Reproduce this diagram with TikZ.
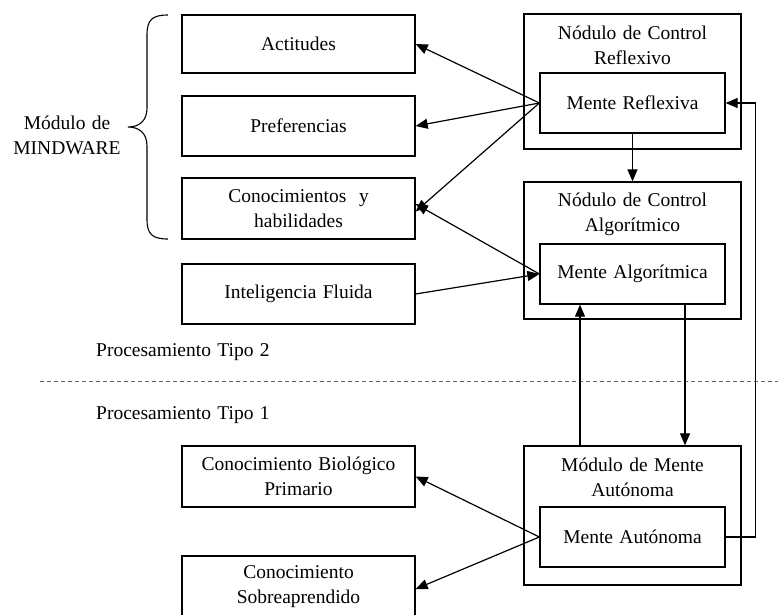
\documentclass[tikz,border=0pt]{standalone}
\usepackage{fontspec}
\setmainfont{Liberation Serif}[WordSpace=1.3]
\usetikzlibrary{arrows.meta}
\begin{document}
\begin{tikzpicture}[x=1pt,y=-1pt,
  every node/.style={font=\fontsize{19.5}{25}\selectfont, inner sep=0pt},
  box/.style={draw, line width=1.3pt, minimum width=233pt, minimum height=#1, align=center},
  box/.default=60pt,
  outer/.style={draw, line width=1.3pt, minimum width=217pt, minimum height=#1},
  inner/.style={draw, line width=1.3pt, minimum width=185pt, minimum height=60pt, align=center},
  title/.style={align=center},
  arr/.style={line width=1.2pt, -{Triangle[length=12pt,width=10pt]}},
  ln/.style={line width=1.2pt}]
\clip (0,0) rectangle (778,614);
\fill[white] (0,0) rectangle (778,614);

% left boxes
\node[box=58pt] (act) at (298.5,44) {Actitudes};
\node[box] (pref) at (298.5,126) {Preferencias};
\node[box=61pt] (con) at (298.5,208.5) {Conocimientos\ \ y\\habilidades};
\node[box] (intf) at (298.5,294) {Inteligencia Fluida};
\node[box=61pt] (bio) at (298.5,476.5) {Conocimiento Biológico\\Primario};
\node[box=61pt] (sob) at (298.5,586.5) {Conocimiento\\Sobreaprendido};

% right modules
\node[outer=135pt] (cr) at (632.5,81.5) {};
\node[title] (crt) at (632.5,45.5) {Nódulo de Control\\Reflexivo};
\node[inner] (mr) at (632.5,103) {Mente Reflexiva};

\node[outer=137pt] (ca) at (632.5,250.5) {};
\node[title] (cat) at (632.5,214) {Nódulo de Control\\Algorítmico};
\node[inner] (ma) at (632.5,274) {Mente Algorítmica};

\node[outer=139pt] (am) at (632.5,515.5) {};
\node[title] (amt) at (632.5,477.5) {Módulo de Mente\\Autónoma};
\node[inner] (mau) at (632.5,537) {Mente Autónoma};

% mindware label and brace
\node[align=center] (mw) at (67,135) {Módulo de\\MINDWARE};
\draw[line width=1.1pt] (168,15) .. controls (152,15) and (147,20) .. (147,35) -- (147,108)
  .. controls (147,121) and (139,127) .. (128,127)
  .. controls (139,127) and (147,133) .. (147,146) -- (147,219)
  .. controls (147,234) and (152,239) .. (168,239);

% processing labels and dashed divider
\node[anchor=west] (p2) at (96,352) {Procesamiento Tipo 2};
\node[anchor=west] (p1) at (96,415) {Procesamiento Tipo 1};
\coordinate (dl) at (40,381);
\coordinate (dr) at (778,381);
\draw[line width=1pt, gray!80!black, dash pattern=on 4pt off 3pt] (dl) -- (dr);

% arrows
\draw[arr] (mr.west) -- (act.east);
\draw[arr] (mr.west) -- (pref.east);
\draw[arr] (mr.west) -- ([yshift=-3pt]con.east);
\draw[arr] (ma.west) -- ([yshift=4.5pt]con.east);
\draw[arr] (intf.east) -- (ma.west);
\draw[arr] (mr.south) -- (ca.north);
\draw[arr] ([xshift=52.5pt]ma.south) -- ([xshift=52.5pt]am.north);
\draw[arr] ([xshift=-52.5pt]am.north) -- ([xshift=-52.5pt]ma.south);
\draw[arr] (mau.east) -- ++(30,0) |- (mr.east);
\draw[arr] (mau.west) -- (bio.east);
\draw[arr] (mau.west) -- ([yshift=-2.5pt]sob.east);
\end{tikzpicture}
\end{document}
